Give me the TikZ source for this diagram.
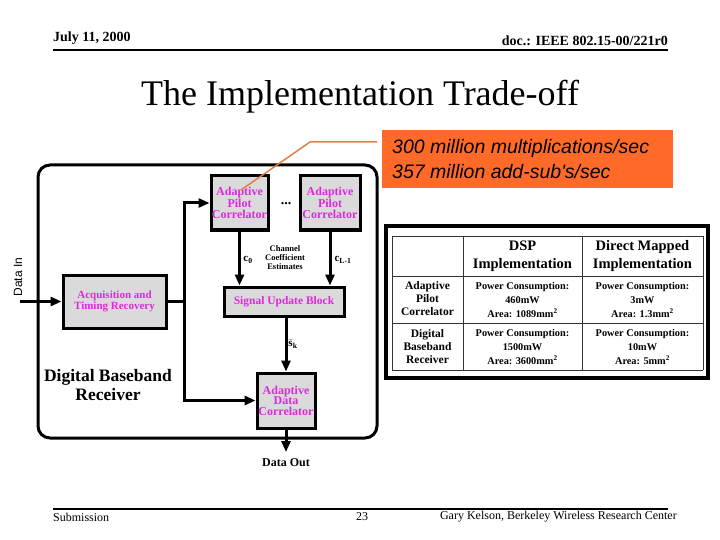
\documentclass[tikz,border=0pt]{standalone}
\usepackage{fontspec}
\setmainfont{Liberation Serif}
\newfontfamily\arialf{Liberation Sans}
\usetikzlibrary{arrows.meta}
\definecolor{mag}{RGB}{222,40,222}
\definecolor{orng}{RGB}{255,106,40}
\definecolor{calln}{RGB}{222,128,72}
\definecolor{stip}{RGB}{218,218,218}
\begin{document}
\begin{tikzpicture}[x=1pt,y=-1pt,
  blk/.style={draw=black,line width=3pt,fill=stip,inner sep=0pt,text=mag,align=center,
    font=\bfseries\fontsize{12}{10.5}\selectfont},
  wire/.style={line width=3pt},
  arr/.style={line width=3pt,-{Triangle[length=11pt,width=9pt]}},
  lbl/.style={inner sep=0pt,align=center},
  hdr/.style={inner sep=0pt,font=\bfseries\fontsize{14}{16}\selectfont},
  foot/.style={inner sep=0pt,font=\fontsize{12}{14}\selectfont},
  thead/.style={inner sep=0pt,align=center,font=\bfseries\fontsize{14.5}{18}\selectfont},
  tcell/.style={inner sep=0pt,align=center,font=\bfseries\fontsize{10.3}{14}\selectfont},
  rlabel/.style={inner sep=0pt,align=center,font=\bfseries\fontsize{11.5}{13}\selectfont},
  rule/.style={line width=2.5pt},
  tline/.style={line width=0.8pt,draw=black!80}
]
\useasboundingbox (0,0) rectangle (720,540);
\fill[white] (0,0) rectangle (720,540);

% header / footer
\node[hdr,anchor=west] (date) at (53,38) {July 11, 2000};
\node[hdr,anchor=east] (doc) at (668,41) {doc.: IEEE 802.15-00/221r0};
\coordinate (hl) at (53,50); \coordinate (hr) at (668,50);
\draw[rule] (hl) -- (hr);
\coordinate (fl) at (53,509); \coordinate (fr) at (668,509);
\draw[rule] (fl) -- (fr);
\node[foot,anchor=west] (sub1) at (53,517) {Submission};
\node[foot] (pg) at (362,517) {23};
\node[foot,anchor=east] (auth) at (677,517) {Gary Kelson, Berkeley Wireless Research Center};

% title
\node[inner sep=0pt,font=\fontsize{36}{40}\selectfont] (title) at (360,97) {The Implementation Trade-off};

% receiver frame
\draw[line width=3pt,rounded corners=12pt] (38,165) rectangle (377,438);

% blocks
\node[blk,minimum width=57pt,minimum height=54pt] (apc1) at (239.5,203) {Adaptive\\Pilot\\Correlator};
\node[blk,minimum width=60pt,minimum height=54pt] (apc2) at (330,203) {Adaptive\\Pilot\\Correlator};
\node[lbl,font=\bfseries\fontsize{14}{14}\selectfont] (dots) at (286,204) {...};
\node[blk,minimum width=120pt,minimum height=29pt,font=\bfseries\fontsize{11.5}{12}\selectfont] (sub) at (284,301.5) {Signal Update Block};
\node[blk,minimum width=103pt,minimum height=53pt,font=\bfseries\fontsize{11}{10.7}\selectfont] (atr) at (114.5,301.5) {Acquisition and\\Timing Recovery};
\node[blk,minimum width=58pt,minimum height=55pt] (adc) at (286,400.5) {Adaptive\\Data\\Correlator};

% labels
\node[lbl,font=\bfseries\fontsize{11}{12}\selectfont] (c0) at (248,260) {c\textsubscript{0}};
\node[lbl,font=\bfseries\fontsize{11}{12}\selectfont] (cl) at (343,260) {c\textsubscript{L-1}};
\node[lbl,font=\bfseries\fontsize{8.5}{9}\selectfont] (cce) at (285,258) {Channel\\Coefficient\\Estimates};
\node[lbl,font=\bfseries\fontsize{11}{12}\selectfont] (sk) at (293,344) {$\bar{\mathbf{s}}$\textsubscript{k}};
\node[lbl,font=\bfseries\fontsize{12}{14}\selectfont] (dout) at (286,463) {Data Out};
\node[lbl,font=\arialf\fontsize{12}{14}\selectfont,rotate=90] (din) at (18,277) {Data In};
\node[lbl,font=\bfseries\fontsize{17.5}{19}\selectfont] (dbr) at (108,385) {Digital Baseband\\Receiver};

% connectors
\coordinate (src) at (20,301.5);
\coordinate (split) at (184,301.5);
\coordinate (outend) at (286,452);
\draw[arr] (src) -- (atr.west);
\draw[wire] (atr.east) -- (split);
\draw[arr] (split) |- (apc1.west);
\draw[arr] (split) |- (adc.west);
\draw[arr] (apc1.south) -- (apc1.south |- sub.north);
\draw[arr] (apc2.south) -- (apc2.south |- sub.north);
\draw[arr] (sub.south -| adc.north) -- (adc.north);
\draw[arr] (adc.south) -- (outend);

% callout
\node[fill=orng,minimum width=291pt,minimum height=58pt,inner sep=0pt] (ob) at (527.5,159) {};
\node[inner sep=0pt,anchor=west,font=\arialf\itshape\fontsize{19.5}{22}\selectfont] (ob1) at (392,148) {300 million multiplications/sec};
\node[inner sep=0pt,anchor=west,font=\arialf\itshape\fontsize{19.5}{22}\selectfont] (ob2) at (392,172) {357 million add-sub's/sec};
\coordinate (cs) at (377,142);
\coordinate (cm) at (310,142);
\coordinate (ce) at (241,190);
\draw[calln,line width=1.5pt] (cs) -- (cm) -- (ce);

% table
\draw[line width=4pt] (386,226) rectangle (708,378);
\draw[tline] (392,236) -- (703,236);
\draw[tline] (392,276) -- (703,276);
\draw[tline] (392,323) -- (703,323);
\draw[tline] (392,370) -- (703,370);
\draw[tline] (392,236) -- (392,370);
\draw[tline] (463,236) -- (463,370);
\draw[tline] (582,236) -- (582,370);
\draw[tline] (703,236) -- (703,370);
\node[thead] (h2) at (522.5,256) {DSP\\Implementation};
\node[thead] (h3) at (642.5,256) {Direct Mapped\\Implementation};
\node[rlabel] (r1c1) at (427.5,299) {Adaptive\\Pilot\\Correlator};
\node[tcell] (r1c2) at (522.5,300) {Power Consumption:\\460mW\\Area: 1089mm\textsuperscript{2}};
\node[tcell] (r1c3) at (642.5,300) {Power Consumption:\\3mW\\Area: 1.3mm\textsuperscript{2}};
\node[rlabel] (r2c1) at (427.5,347) {Digital\\Baseband\\Receiver};
\node[tcell] (r2c2) at (522.5,347) {Power Consumption:\\1500mW\\Area: 3600mm\textsuperscript{2}};
\node[tcell] (r2c3) at (642.5,347) {Power Consumption:\\10mW\\Area: 5mm\textsuperscript{2}};
\end{tikzpicture}
\end{document}
